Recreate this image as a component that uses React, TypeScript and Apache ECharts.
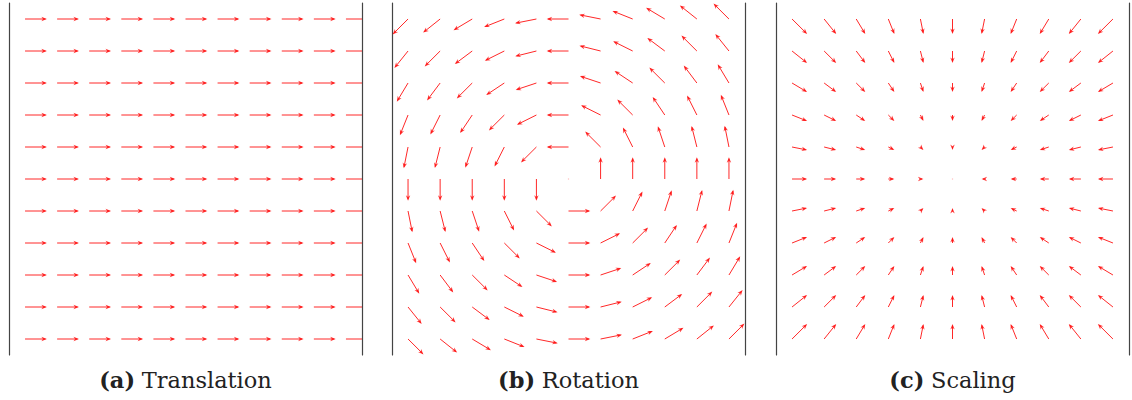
import React, { useEffect, useRef } from "react";
import * as echarts from "echarts";

// Grid points (data units) at which each field is sampled, along both axes
const gridTicks = [-5, -4, -3, -2, -1, 0, 1, 2, 3, 4, 5];
const axisMin = -5.5;
const axisMax = 5.5;

// Each field is an affine map  v = M · p + c
const translationMatrix = [[0, 0], [0, 0]];
const translationOffset = [1, 0];
const rotationMatrix = [[0, -1], [1, 0]];
const rotationOffset = [0, 0];
const scalingMatrix = [[-1, 0], [0, -1]];
const scalingOffset = [0, 0];

// Panel captions
const captionTags = ["(a)", "(b)", "(c)"];
const captionNames = ["Translation", "Rotation", "Scaling"];

// Arrow length handling: normalized to a fixed length, or proportional to magnitude
const arrowModes = ["unit", "unit", "scale"];
const unitArrowLength = 0.68;
const magnitudeScale = 0.094;

const fields = [
  { m: translationMatrix, c: translationOffset },
  { m: rotationMatrix, c: rotationOffset },
  { m: scalingMatrix, c: scalingOffset },
];

// Layout of the three panels, in pixels
const panelLefts = [9, 392, 776];
const panelWidth = 353;
const panelTop = 3;
const panelHeight = 352;
const captionY = 380;

const arrowColor = "#ff1010";
const axisColor = "#444444";

function buildFieldData(idx: number) {
  const { m, c } = fields[idx];
  const out: number[][] = [];
  for (const y of gridTicks) {
    for (const x of gridTicks) {
      let u = m[0][0] * x + m[0][1] * y + c[0];
      let v = m[1][0] * x + m[1][1] * y + c[1];
      const mag = Math.hypot(u, v);
      if (arrowModes[idx] === "unit") {
        if (mag > 0) {
          u = (u / mag) * unitArrowLength;
          v = (v / mag) * unitArrowLength;
        }
      } else {
        u *= magnitudeScale;
        v *= magnitudeScale;
      }
      out.push([x, y, u, v]);
    }
  }
  return out;
}

function renderArrow(_params: any, api: any) {
  const x = api.value(0);
  const y = api.value(1);
  const u = api.value(2);
  const v = api.value(3);
  const p0 = api.coord([x, y]);
  const p1 = api.coord([x + u, y + v]);
  const dx = p1[0] - p0[0];
  const dy = p1[1] - p0[1];
  const len = Math.hypot(dx, dy);
  if (len < 0.01) {
    return {
      type: "circle",
      shape: { cx: p0[0], cy: p0[1], r: 0.7 },
      style: { fill: "rgba(255,0,0,0.25)" },
    };
  }
  const ux = dx / len;
  const uy = dy / len;
  const nx = -uy;
  const ny = ux;
  const hl = 5.5;
  const hw = 2.2;
  const bx = p1[0] - ux * hl;
  const by = p1[1] - uy * hl;
  const notchX = p1[0] - ux * hl * 0.7;
  const notchY = p1[1] - uy * hl * 0.7;
  return {
    type: "group",
    children: [
      {
        type: "line",
        shape: { x1: p0[0], y1: p0[1], x2: p1[0] - ux * 1.5, y2: p1[1] - uy * 1.5 },
        style: { stroke: arrowColor, lineWidth: 0.9 },
      },
      {
        type: "polygon",
        shape: {
          points: [
            [p1[0], p1[1]],
            [bx + nx * hw, by + ny * hw],
            [notchX, notchY],
            [bx - nx * hw, by - ny * hw],
          ],
        },
        style: { fill: arrowColor, opacity: 0.85 },
      },
    ],
  };
}

export default function App() {
  const ref = useRef<HTMLDivElement>(null);

  useEffect(() => {
    if (!ref.current) return;
    const chart = echarts.init(ref.current, undefined, { renderer: "svg" });

    const grid: any[] = [];
    const xAxis: any[] = [];
    const yAxis: any[] = [];
    const series: any[] = [];
    const graphic: any[] = [];

    panelLefts.forEach((left, i) => {
      grid.push({ left, top: panelTop, width: panelWidth, height: panelHeight, show: false });
      xAxis.push({ gridIndex: i, type: "value", min: axisMin, max: axisMax, show: false });
      ["left", "right"].forEach((pos) => {
        yAxis.push({
          gridIndex: i,
          type: "value",
          position: pos,
          min: axisMin,
          max: axisMax,
          axisLine: { show: true, onZero: false, lineStyle: { color: axisColor, width: 1.2 } },
          axisTick: { show: false },
          axisLabel: { show: false },
          splitLine: { show: false },
        });
      });
      series.push({
        type: "custom",
        name: captionNames[i],
        xAxisIndex: i,
        yAxisIndex: i * 2,
        clip: true,
        renderItem: renderArrow,
        data: buildFieldData(i),
      });
      graphic.push({
        type: "text",
        x: left + panelWidth / 2,
        y: captionY,
        style: {
          text: `{b|${captionTags[i]}}  {r|${captionNames[i]}}`,
          align: "center",
          verticalAlign: "middle",
          fill: "#222222",
          rich: {
            b: { fontFamily: "DejaVu Serif", fontWeight: "bold", fontSize: 22.5, fill: "#222222" },
            r: { fontFamily: "DejaVu Serif", fontSize: 22.5, fill: "#222222" },
          },
        },
      });
    });

    chart.setOption({
      animation: false,
      backgroundColor: "#ffffff",
      grid,
      xAxis,
      yAxis,
      series,
      graphic,
    });

    return () => chart.dispose();
  }, []);

  return (
    <div
      ref={ref}
      style={{ position: "absolute", left: 0, top: 0, width: 1132, height: 400 }}
    />
  );
}
